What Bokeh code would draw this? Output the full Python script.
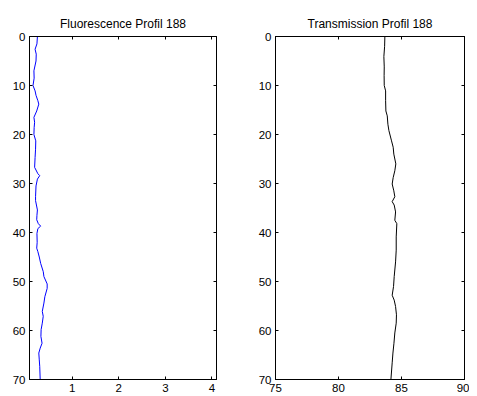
from bokeh.plotting import figure
from bokeh.layouts import row
from bokeh.models import Range1d, LinearAxis, FixedTicker, CustomLabelingPolicy
from bokeh.embed import file_html
from bokeh.resources import INLINE

# ---- data ----
depth_fl = [0, 1.5, 2.6, 3.6, 5, 7, 8.5, 10, 11.1, 12, 13.1, 13.8, 15.2, 16.5, 17.5,
            18.6, 20, 21.3, 23, 24.7, 26.7, 28, 28.4, 29.1, 30.5, 32.7, 33.5, 35.4,
            36.5, 37.4, 38.2, 38.7, 39.2, 40.2, 42, 43.2, 43.9, 45, 46.3, 48, 49,
            50.5, 51.4, 53.1, 54.4, 56.1, 57.1, 58.5, 59.8, 61.2, 62.6, 63.6, 64.6,
            66, 67.3, 70]
fluorescence = [0.25, 0.24, 0.20, 0.225, 0.22, 0.175, 0.18, 0.155, 0.2, 0.22, 0.26,
                0.28, 0.235, 0.175, 0.19, 0.18, 0.175, 0.215, 0.21, 0.2, 0.19, 0.26,
                0.30, 0.25, 0.22, 0.21, 0.21, 0.25, 0.24, 0.235, 0.27, 0.32, 0.26,
                0.24, 0.245, 0.235, 0.26, 0.29, 0.32, 0.376, 0.39, 0.46, 0.46, 0.41,
                0.39, 0.355, 0.375, 0.355, 0.33, 0.325, 0.35, 0.31, 0.28, 0.29, 0.30,
                0.31]

depth_tr = [0, 2, 4.1, 6.2, 8, 10, 11.1, 13.1, 15.2, 16.2, 17.9, 19.2, 21.3, 22.6, 24,
            26, 27.4, 28.8, 30.1, 31.5, 32.7, 33.7, 34.4, 35.8, 37.5, 38.2, 40.9, 43.6,
            46, 49, 51, 52.8, 53.8, 55.1, 56.8, 58.5, 60.5, 62.6, 64.6, 66.6, 70]
transmission = [83.68, 83.66, 83.6, 83.63, 83.62, 83.63, 83.74, 83.74, 83.76, 83.87,
                83.92, 84.0, 84.21, 84.34, 84.39, 84.55, 84.47, 84.34, 84.26, 84.39,
                84.47, 84.26, 84.42, 84.53, 84.47, 84.63, 84.58, 84.58, 84.53, 84.42,
                84.37, 84.26, 84.42, 84.53, 84.6, 84.58, 84.47, 84.4, 84.32, 84.26,
                84.16]

titles = ["Fluorescence Profil 188", "Transmission Profil 188"]
fl_xticks = [1, 2, 3, 4]
tr_xticks = [75, 80, 85, 90]
yticks = [0, 10, 20, 30, 40, 50, 60, 70]

FONT = "Liberation Sans"

NO_LABELS = """
for (const i of indices) {
    indices.unset(i)
}
return indices
"""


def style_axis(ax, ticks, labels=True):
    ax.ticker = FixedTicker(ticks=ticks)
    ax.minor_tick_line_color = None
    ax.major_tick_in = 3
    ax.major_tick_out = 0
    ax.axis_line_color = "black"
    ax.major_tick_line_color = "black"
    ax.major_label_text_font = FONT
    ax.major_label_text_color = "black"
    ax.major_label_text_font_size = "11.5px"
    ax.major_label_standoff = 4
    if not labels:
        ax.major_label_policy = CustomLabelingPolicy(code=NO_LABELS)
        ax.major_label_text_font_size = "0px"
        ax.major_label_standoff = 0


def make(title, xr, xticks, xs, ys, color, bl, br, fw):
    p = figure(output_backend="svg", toolbar_location=None,
               frame_width=fw, frame_height=343,
               x_range=Range1d(*xr), y_range=Range1d(70, 0),
               min_border_left=bl, min_border_right=br,
               min_border_top=36, min_border_bottom=17)
    p.title.text = title
    p.title.text_font = FONT
    p.title.text_font_size = "12px"
    p.title.text_font_style = "normal"
    p.title.align = "center"
    p.title.text_color = "black"
    p.title.standoff = 11
    p.outline_line_color = "black"
    p.xgrid.visible = False
    p.ygrid.visible = False
    style_axis(p.xaxis[0], xticks)
    style_axis(p.yaxis[0], yticks)
    top = LinearAxis()
    style_axis(top, xticks, labels=False)
    right = LinearAxis()
    style_axis(right, yticks, labels=False)
    p.add_layout(top, "above")
    p.add_layout(right, "right")
    p.line(xs, ys, line_color=color, line_width=1)
    p.background_fill_color = "white"
    p.border_fill_color = "white"
    return p


p1 = make(titles[0], (0.08, 4.1), fl_xticks, fluorescence, depth_fl, "#0000ff", 29, 20, 187)
p2 = make(titles[1], (75, 90), tr_xticks, transmission, depth_tr, "black", 39, 5, 189)

p = row(p1, p2)
open("out.html", "w").write(file_html(p, INLINE))
